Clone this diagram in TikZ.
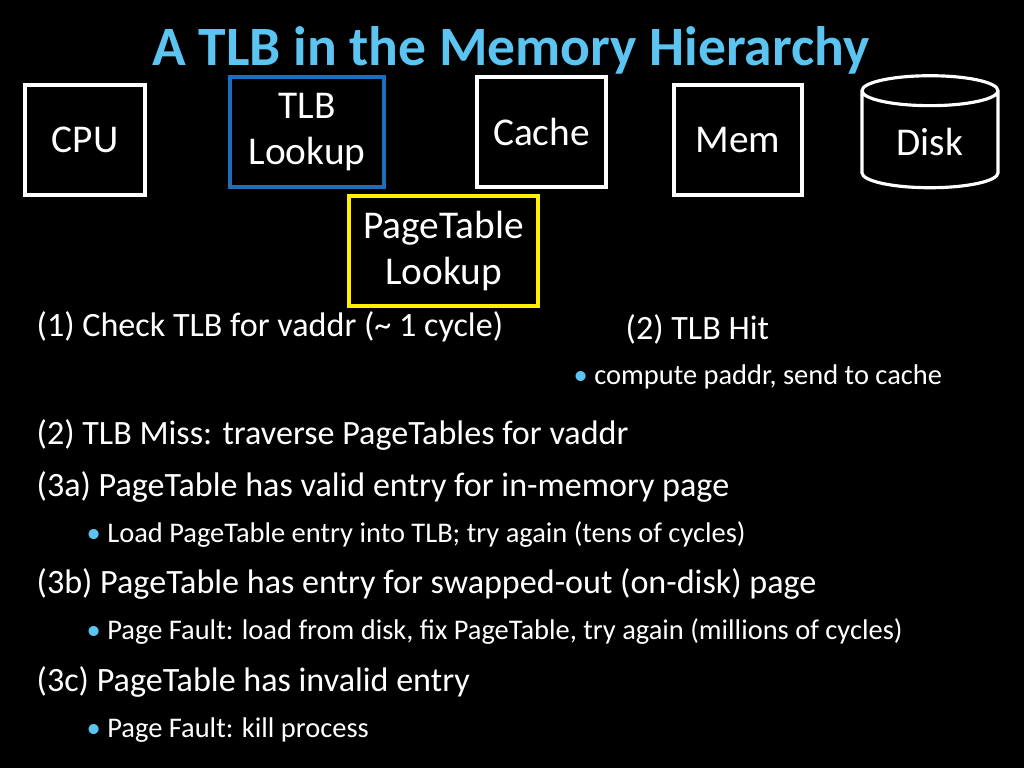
\documentclass[tikz,border=0pt]{standalone}
\usepackage{fontspec}
\setmainfont{Carlito}
\usetikzlibrary{shapes.geometric}
\definecolor{titleblue}{RGB}{91,196,241}
\definecolor{tlbblue}{RGB}{30,110,190}
\definecolor{ptyellow}{RGB}{255,240,0}
\tikzset{
	unit/.style={draw=white, line width=0.9pt, text=white, font=\fontsize{11.2}{13.3}\selectfont, align=center, inner sep=0pt},
	line/.style={text=white, anchor=west, font=\fontsize{9.7}{11}\selectfont, inner sep=0pt},
	sub/.style={text=white, anchor=west, font=\fontsize{8.1}{9}\selectfont, inner sep=0pt}
}
\newcommand{\dotb}{{\color{titleblue}\textbullet}\ }
\begin{document}
\begin{tikzpicture}
	\fill[black] (0,0) rectangle (10.24,-7.68);
	\useasboundingbox (0,0) rectangle (10.24,-7.68);
	% title
	\node[text=titleblue, font=\bfseries\fontsize{15.8}{18}\selectfont] (title) at (5.11,-0.50) {A TLB in the Memory Hierarchy};
	% units
	\node[unit, minimum width=1.20cm, minimum height=1.10cm] (cpu) at (0.85,-1.40) {CPU};
	\node[unit, draw=tlbblue, minimum width=1.54cm, minimum height=1.10cm] (tlb) at (3.07,-1.32) {TLB\\Lookup};
	\node[unit, minimum width=1.29cm, minimum height=1.10cm] (cache) at (5.415,-1.32) {Cache};
	\node[unit, minimum width=1.28cm, minimum height=1.10cm] (mem) at (7.38,-1.40) {Mem};
	\node[unit, cylinder, shape border rotate=90, aspect=0.45, minimum width=1.36cm, minimum height=1.12cm] (disk) at (9.30,-1.40) {\raisebox{-9pt}{Disk}};
	\node[unit, draw=ptyellow, minimum width=1.89cm, minimum height=1.10cm] (pt) at (4.435,-2.51) {PageTable\\Lookup};
	% text
	\node[line] (s1) at (0.36,-3.27) {(1) Check TLB for vaddr (\textasciitilde{} 1 cycle)};
	\node[line] (s2) at (6.25,-3.29) {(2) TLB Hit};
	\node[sub] (s2a) at (5.73,-3.77) {\dotb compute paddr, send to cache};
	\node[line] (m1) at (0.36,-4.35) {(2) TLB Miss: traverse PageTables for vaddr};
	\node[line] (m2) at (0.36,-4.87) {(3a) PageTable has valid entry for in-memory page};
	\node[sub] (m2a) at (0.86,-5.35) {\dotb Load PageTable entry into TLB; try again (tens of cycles)};
	\node[line] (m3) at (0.36,-5.84) {(3b) PageTable has entry for swapped-out (on-disk) page};
	\node[sub] (m3a) at (0.86,-6.32) {\dotb Page Fault: load from disk, fix PageTable, try again (millions of cycles)};
	\node[line] (m4) at (0.36,-6.82) {(3c) PageTable has invalid entry};
	\node[sub] (m4a) at (0.86,-7.30) {\dotb Page Fault: kill process};
\end{tikzpicture}
\end{document}
